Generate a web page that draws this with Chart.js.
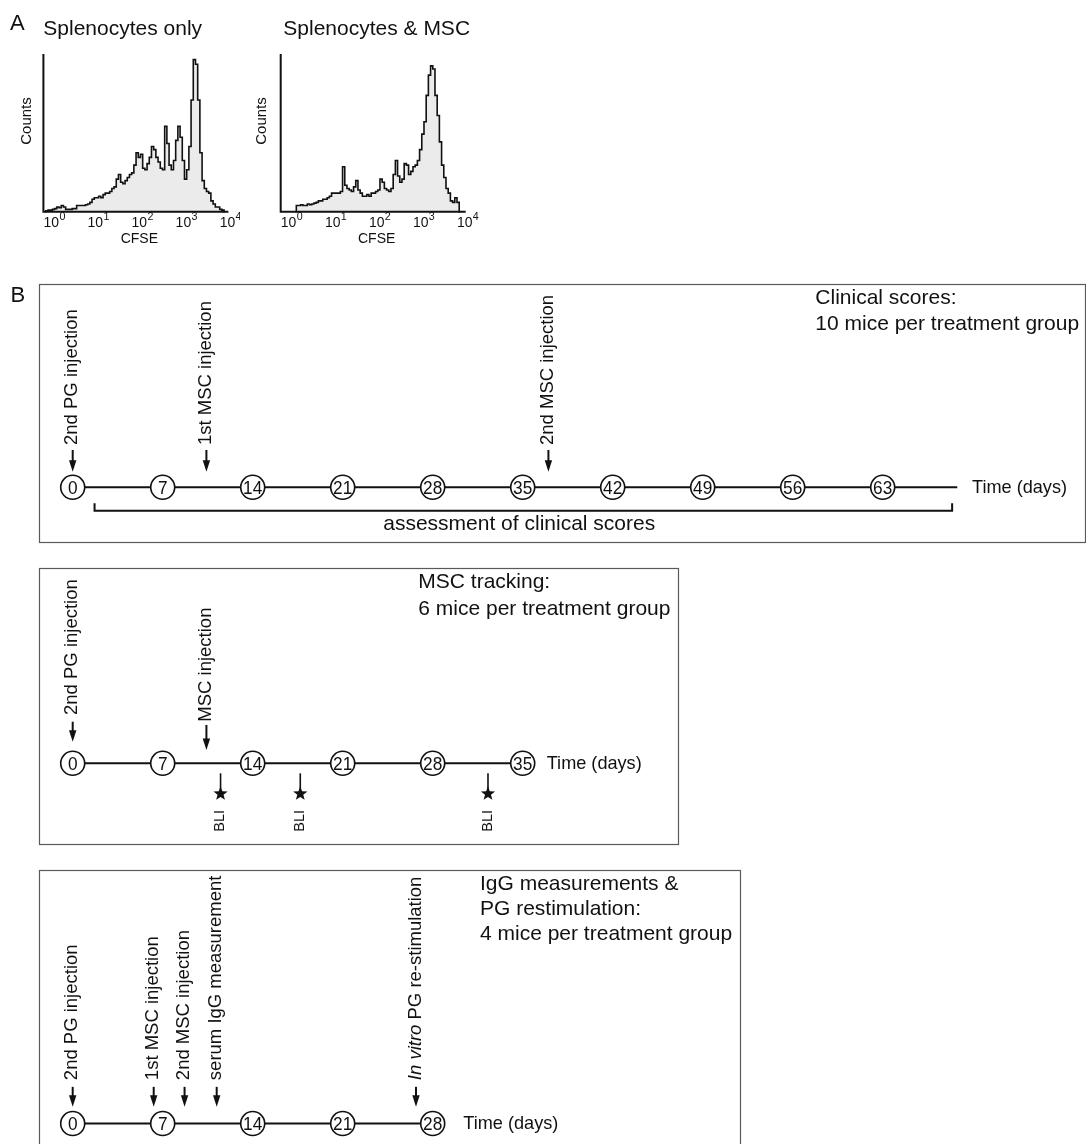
<!DOCTYPE html>
<html><head><meta charset="utf-8">
<script src="https://cdn.jsdelivr.net/npm/chart.js@4.4.1/dist/chart.umd.min.js"></script>
<style>
html,body{margin:0;padding:0;background:#fff;}
body{width:1086px;height:1144px;position:relative;overflow:hidden;}
canvas{position:absolute;display:block;}
</style></head><body>
<canvas id="h1" width="240" height="250" style="left:0px;top:0px;width:240px;height:250px"></canvas>
<canvas id="h2" width="250" height="250" style="left:237px;top:0px;width:250px;height:250px"></canvas>
<canvas id="b1" width="1086" height="266" style="left:0px;top:280px;width:1086px;height:266px"></canvas>
<canvas id="b2" width="690" height="290" style="left:0px;top:560px;width:690px;height:290px"></canvas>
<canvas id="b3" width="750" height="284" style="left:0px;top:860px;width:750px;height:284px"></canvas>
<script>
// ================= DATA =================
// Panel A: CFSE histograms, bins of 1/20 decade (bin 0 = 10^0, bin 80 = 10^4)
const cfseTickExponents = [0, 1, 2, 3, 4];
const cfseBinsPerDecade = 20;
const histTitles = ['Splenocytes only', 'Splenocytes & MSC'];
const splenocytesOnlyStartBin = -3;
const splenocytesOnlyCounts = [0, 0.5, 1, 1, 1.5, 2, 3, 2.5, 4, 3, 1.5, 1.5, 1.5, 2, 2, 4, 4, 4, 4, 4.5, 5, 6, 8, 9, 9, 10, 9, 11, 12, 12, 13, 15, 16, 21, 24, 19, 18, 20, 22, 24, 25, 30, 38, 35, 37, 28, 27, 31, 35, 42, 40, 35, 32, 28, 27, 55, 44, 30, 27, 33, 46, 55, 48, 33, 21, 27, 42, 72, 98, 95, 72, 38, 20, 15, 13, 12, 7, 5, 3, 3, 1.5, 1, 0];
const splenocytesMscStartBin = 3;
const splenocytesMscCounts = [0, 4, 4, 4.5, 4, 4, 5, 4.5, 5, 5.5, 6, 7, 7, 8, 8, 9, 10, 12, 12, 12, 12, 13, 29, 17, 15, 14, 13, 16, 20, 14, 12, 10, 10, 11, 10, 12, 12, 13, 14, 21, 19, 15, 14, 13, 15, 24, 33, 23, 19, 21, 31, 30, 24, 26, 29, 30, 33, 40, 50, 58, 75, 88, 94, 92, 75, 62, 45, 30, 22, 15, 12, 7, 6, 9, 6, 0];

// Panel B: timelines (days)
const clinicalDays = [0, 7, 14, 21, 28, 35, 42, 49, 56, 63];
const clinicalLineEnd = 68.8;
const clinicalEventDays = [0, 10.4, 37];
const clinicalEventLabels = ['2nd PG injection', '1st MSC injection', '2nd MSC injection'];
const clinicalAssessmentSpan = [1.7, 68.4];
const clinicalAssessmentLabel = 'assessment of clinical scores';
const clinicalNotes = ['Clinical scores:', '10 mice per treatment group'];

const trackingDays = [0, 7, 14, 21, 28, 35];
const trackingLineEnd = 35;
const trackingEventDays = [0, 10.4];
const trackingEventLabels = ['2nd PG injection', 'MSC injection'];
const trackingBliDays = [11.5, 17.7, 32.3];
const trackingNotes = ['MSC tracking:', '6 mice per treatment group'];

const iggDays = [0, 7, 14, 21, 28];
const iggLineEnd = 28;
const iggEventDays = [0, 6.3, 8.7, 11.2, 26.7];
const iggEventLabels = ['2nd PG injection', '1st MSC injection', '2nd MSC injection', 'serum IgG measurement', 'In vitro PG re-stimulation'];
const iggEventItalic = ['', '', '', '', 'In vitro'];
const iggNotes = ['IgG measurements &', 'PG restimulation:', '4 mice per treatment group'];

const timeAxisLabel = 'Time (days)';

// ================= DRAWING HELPERS =================
const FONT = '"Liberation Sans", Arial, Helvetica, sans-serif';
const INK = '#111';

function txt(ctx, s, x, y, size, o) {
  o = o || {};
  ctx.save();
  ctx.font = (o.italic ? 'italic ' : '') + size + 'px ' + FONT;
  ctx.textAlign = o.align || 'left';
  ctx.textBaseline = 'alphabetic';
  ctx.fillStyle = INK;
  ctx.translate(x, y);
  if (o.sx) ctx.scale(o.sx, 1);
  ctx.fillText(s, 0, 0);
  ctx.restore();
}
// rotated (bottom-to-top) text whose glyphs are centred on x, starting at yBottom
function rotText(ctx, label, italicPrefix, x, yBottom, size, align) {
  ctx.save();
  ctx.fillStyle = INK;
  ctx.translate(x + 0.253 * size, yBottom);
  ctx.rotate(-Math.PI / 2);
  ctx.textAlign = align || 'left';
  ctx.textBaseline = 'alphabetic';
  let cx = 0;
  if (italicPrefix) {
    ctx.font = 'italic ' + size + 'px ' + FONT;
    ctx.fillText(italicPrefix, 0, 0);
    cx = ctx.measureText(italicPrefix).width;
    label = label.slice(italicPrefix.length);
  }
  ctx.font = size + 'px ' + FONT;
  ctx.fillText(label, cx, 0);
  ctx.restore();
}
function arrow(ctx, x, yTop, yTip) {
  ctx.save();
  ctx.strokeStyle = INK; ctx.fillStyle = INK; ctx.lineWidth = 2;
  ctx.beginPath(); ctx.moveTo(x, yTop); ctx.lineTo(x, yTip - 9); ctx.stroke();
  ctx.beginPath();
  ctx.moveTo(x - 3.7, yTip - 11.5); ctx.lineTo(x + 3.7, yTip - 11.5); ctx.lineTo(x, yTip);
  ctx.closePath(); ctx.fill();
  ctx.restore();
}
function star(ctx, cx, cy, R, r) {
  ctx.save(); ctx.fillStyle = INK; ctx.beginPath();
  for (let i = 0; i < 10; i++) {
    const ang = -Math.PI / 2 + i * Math.PI / 5;
    const rad = i % 2 === 0 ? R : r;
    const px = cx + rad * Math.cos(ang), py = cy + rad * Math.sin(ang);
    if (i === 0) ctx.moveTo(px, py); else ctx.lineTo(px, py);
  }
  ctx.closePath(); ctx.fill(); ctx.restore();
}

// ================= HISTOGRAMS =================
function histPlugin(cfg) {
  return {
    id: 'histDecor',
    afterDraw(chart) {
      const ctx = chart.ctx, xs = chart.scales.x, a = chart.chartArea;
      ctx.save();
      ctx.strokeStyle = INK; ctx.lineWidth = 2; ctx.lineCap = 'square';
      ctx.beginPath();
      ctx.moveTo(a.left, a.top); ctx.lineTo(a.left, a.bottom); ctx.lineTo(a.right, a.bottom);
      ctx.stroke();
      ctx.restore();
      cfseTickExponents.forEach(k => {
        const px = xs.getPixelForValue(k * cfseBinsPerDecade);
        ctx.save();
        ctx.font = '15px ' + FONT;
        const w = ctx.measureText('10').width * 0.93;
        ctx.restore();
        txt(ctx, '10', px, 226.5, 15, { align: 'center', sx: 0.93 });
        txt(ctx, String(k), px + w / 2 + 0.3, 219.5, 11.5, { sx: 0.93 });
      });
      txt(ctx, 'CFSE', xs.getPixelForValue(2 * cfseBinsPerDecade), 243, 14, { align: 'center' });
      txt(ctx, cfg.title, cfg.titleX, 35, 21);
      if (cfg.panel) txt(ctx, cfg.panel, 10, 30, 22);
      rotText(ctx, 'Counts', '', cfg.countsX, 121, 15, 'center');
    }
  };
}
function makeHist(id, counts, startBin, cfg) {
  const pts = counts.map((c, i) => ({ x: startBin + i, y: c }));
  new Chart(document.getElementById(id), {
    type: 'line',
    data: { datasets: [{ data: pts, stepped: 'middle', borderColor: INK, borderWidth: 1.6,
      backgroundColor: '#ebebeb', fill: 'origin', pointRadius: 0, clip: false }] },
    options: {
      responsive: false, animation: false, devicePixelRatio: 1, events: [],
      layout: { padding: cfg.padding },
      plugins: { legend: { display: false }, tooltip: { enabled: false } },
      scales: {
        x: { type: 'linear', min: -3.6, max: 80, display: false },
        y: { type: 'linear', min: 0, max: 101, display: false }
      }
    },
    plugins: [histPlugin(cfg)]
  });
}
makeHist('h1', splenocytesOnlyCounts, splenocytesOnlyStartBin,
  { padding: { left: 43.4, right: 12.6, top: 55, bottom: 38.3 }, title: histTitles[0], titleX: 43.3, panel: 'A', countsX: 27.3 });
makeHist('h2', splenocytesMscCounts, splenocytesMscStartBin,
  { padding: { left: 43.7, right: 22.3, top: 55, bottom: 38.3 }, title: histTitles[1], titleX: 46.3, panel: '', countsX: 25.7 });

// ================= TIMELINES =================
function timelinePlugin(cfg) {
  return {
    id: 'timelineDecor',
    afterDraw(chart) {
      const ctx = chart.ctx, xs = chart.scales.x, ys = chart.scales.y;
      const ly = ys.getPixelForValue(0);
      const T = cfg.canvasTop;
      // frame
      ctx.save();
      ctx.strokeStyle = '#5a5a5a'; ctx.lineWidth = 1.2;
      const r = cfg.rect;
      ctx.strokeRect(r[0], r[1] - T, r[2] - r[0], r[3] - r[1]);
      ctx.restore();
      // day numbers in circles
      cfg.days.forEach(d => txt(ctx, String(d), xs.getPixelForValue(d), ly + 6.4, 18, { align: 'center', sx: 0.96 }));
      // event arrows + rotated labels
      cfg.eventDays.forEach((d, i) => {
        const px = xs.getPixelForValue(d);
        const g = cfg.arrows[i] || cfg.arrows[0];
        arrow(ctx, px, ly + g.top, ly + g.tip);
        rotText(ctx, cfg.eventLabels[i], cfg.italic ? cfg.italic[i] : '', px, ly + g.text, 18.5);
      });
      // BLI markers
      (cfg.bli || []).forEach(d => {
        const px = xs.getPixelForValue(d);
        ctx.save(); ctx.strokeStyle = INK; ctx.lineWidth = 1.6;
        ctx.beginPath(); ctx.moveTo(px, ly + 10); ctx.lineTo(px, ly + 26); ctx.stroke(); ctx.restore();
        star(ctx, px, ly + 30.5, 7.5, 3.1);
        rotText(ctx, 'BLI', '', px, ly + 68.4, 14.5);
      });
      // assessment bracket
      if (cfg.span) {
        const xa = xs.getPixelForValue(cfg.span[0]), xb = xs.getPixelForValue(cfg.span[1]);
        ctx.save(); ctx.strokeStyle = INK; ctx.lineWidth = 2;
        ctx.beginPath();
        ctx.moveTo(xa, ly + 16); ctx.lineTo(xa, ly + 23.4); ctx.lineTo(xb, ly + 23.4); ctx.lineTo(xb, ly + 16);
        ctx.stroke(); ctx.restore();
        txt(ctx, cfg.spanLabel, cfg.spanLabelX, ly + 42.7, 21, { align: 'center' });
      }
      // time axis label
      txt(ctx, timeAxisLabel, cfg.timeLabelX, ly + 5.5, 18.5, { sx: 0.98 });
      // notes
      cfg.notes.forEach((s, i) => txt(ctx, s, cfg.notesX, cfg.notesY[i] - T, 21));
      if (cfg.panel) txt(ctx, cfg.panel, 10.5, 301.7 - T, 22);
    }
  };
}
function makeTimeline(id, days, lineEnd, cfg) {
  new Chart(document.getElementById(id), {
    type: 'scatter',
    data: { datasets: [
      { type: 'scatter', data: days.map(d => ({ x: d, y: 0 })), pointRadius: 12,
        pointBackgroundColor: '#fff', pointBorderColor: INK, pointBorderWidth: 1.6, clip: false, order: 0 },
      { type: 'line', data: [{ x: 0, y: 0 }, { x: lineEnd, y: 0 }], borderColor: INK, borderWidth: 2,
        pointRadius: 0, fill: false, clip: false, order: 1 }
    ] },
    options: {
      responsive: false, animation: false, devicePixelRatio: 1, events: [],
      layout: { padding: cfg.padding },
      plugins: { legend: { display: false }, tooltip: { enabled: false } },
      scales: {
        x: { type: 'linear', min: 0, max: cfg.xMax, display: false },
        y: { type: 'linear', min: -1, max: 1, display: false }
      }
    },
    plugins: [timelinePlugin(Object.assign({ days: days }, cfg))]
  });
}

makeTimeline('b1', clinicalDays, clinicalLineEnd, {
  canvasTop: 280, rect: [39.5, 284.5, 1085.5, 542.5], xMax: 70,
  padding: { left: 72.7, right: 113.3, top: 197.3, bottom: 48.7 },
  eventDays: clinicalEventDays, eventLabels: clinicalEventLabels,
  arrows: [{ text: -42.3, top: -37.3, tip: -15.6 }],
  span: clinicalAssessmentSpan, spanLabel: clinicalAssessmentLabel, spanLabelX: 519.2,
  timeLabelX: 972, notes: clinicalNotes, notesX: 815.3, notesY: [304.3, 330], panel: 'B'
});
makeTimeline('b2', trackingDays, trackingLineEnd, {
  canvasTop: 560, rect: [39.5, 568.5, 678.5, 844.5], xMax: 42,
  padding: { left: 72.7, right: 77.3, top: 193.3, bottom: 76.7 },
  eventDays: trackingEventDays, eventLabels: trackingEventLabels,
  arrows: [{ text: -48.3, top: -41.6, tip: -21.6 }, { text: -41.6, top: -38.3, tip: -13.3 }],
  bli: trackingBliDays,
  timeLabelX: 546.7, notes: trackingNotes, notesX: 418.3, notesY: [588.3, 615]
});
makeTimeline('b3', iggDays, iggLineEnd, {
  canvasTop: 860, rect: [39.5, 870.5, 740.5, 1200], xMax: 35,
  padding: { left: 72.7, right: 227.3, top: 256.7, bottom: 7.3 },
  eventDays: iggEventDays, eventLabels: iggEventLabels, italic: iggEventItalic,
  arrows: [{ text: -43.4, top: -36.7, tip: -16.7 }],
  timeLabelX: 463.3, notes: iggNotes, notesX: 480, notesY: [890, 915, 940]
});
</script>
</body></html>
